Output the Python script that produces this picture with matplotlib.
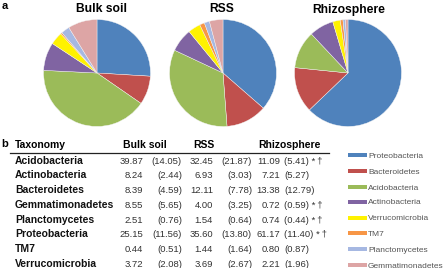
import matplotlib
matplotlib.use("Agg")
import matplotlib.pyplot as plt
from matplotlib.patches import Rectangle
from matplotlib.lines import Line2D

plt.rcParams['font.family'] = ['Liberation Sans', 'DejaVu Sans']

# ---- data ----
taxa = ["Acidobacteria", "Actinobacteria", "Bacteroidetes", "Gemmatimonadetes",
        "Planctomycetes", "Proteobacteria", "TM7", "Verrucomicrobia"]
bulk_mean = [39.87, 8.24, 8.39, 8.55, 2.51, 25.15, 0.44, 3.72]
bulk_sd = [14.05, 2.44, 4.59, 5.65, 0.76, 11.56, 0.51, 2.08]
rss_mean = [32.45, 6.93, 12.11, 4.00, 1.54, 35.60, 1.44, 3.69]
rss_sd = [21.87, 3.03, 7.78, 3.25, 0.64, 13.80, 1.64, 2.67]
rhizo_mean = [11.09, 7.21, 13.38, 0.72, 0.74, 61.17, 0.80, 2.21]
rhizo_sd = [5.41, 5.27, 12.79, 0.59, 0.44, 11.40, 0.87, 1.96]
rhizo_marks = ["*\u2009\u2020", "", "", "*\u2009\u2020", "*\u2009\u2020", "*\u2009\u2020", "", ""]

groups = ["Bulk soil", "RSS", "Rhizosphere"]
pie_order = ["Proteobacteria", "Bacteroidetes", "Acidobacteria", "Actinobacteria",
             "Verrucomicrobia", "TM7", "Planctomycetes", "Gemmatimonadetes"]
pie_colors = ["#4F82BC", "#C0504D", "#9BBB59", "#8064A2",
              "#FFF200", "#F79646", "#A6B8E2", "#DDA5A5"]

W, H = 443, 268
fig = plt.figure(figsize=(W / 100, H / 100), dpi=100)


def fx(x):
    return x / W


def fy(y):
    return 1 - y / H


def txt(x, y, s, **kw):
    fig.text(fx(x), fy(y), s, **kw)


# ---- panel a: pies ----
txt(2, 9, "a", fontsize=8, fontweight='bold', va='baseline')
centers = [97, 223, 348]
title_x = [101, 222, 349]
cy, r = 73, 54
all_means = [bulk_mean, rss_mean, rhizo_mean]
for cx, tx, name, means in zip(centers, title_x, groups, all_means):
    ax = fig.add_axes([fx(cx - r), fy(cy + r), 2 * r / W, 2 * r / H])
    vals = [means[taxa.index(t)] for t in pie_order]
    ax.pie(vals, colors=pie_colors, startangle=90, counterclock=False, radius=1,
           wedgeprops=dict(edgecolor='#f4f4f4', linewidth=0.3))
    ax.set_xlim(-1.01, 1.01)
    ax.set_ylim(-1.01, 1.01)
    ax.axis('off')
    txt(tx, 12.5, name, fontsize=8.7, fontweight='bold', ha='center', va='baseline')

# ---- panel b: table ----
txt(1, 147, "b", fontsize=8, fontweight='bold', va='baseline')
hy = 147.5
fs = 7.5
nfs = 6.8
txt(15, hy, "Taxonomy", fontsize=fs, fontweight='bold', va='baseline')
txt(123, hy, "Bulk soil", fontsize=fs, fontweight='bold', va='baseline')
txt(193, hy, "RSS", fontsize=fs, fontweight='bold', va='baseline')
txt(258, hy, "Rhizosphere", fontsize=fs, fontweight='bold', va='baseline')
fig.add_artist(Line2D([fx(10), fx(329)], [fy(152.5), fy(152.5)],
                      color='#222222', lw=0.9, transform=fig.transFigure))

row_y = [160, 174.5, 189.5, 204, 219, 233.5, 248, 263]
num_c = '#333333'
for i, t in enumerate(taxa):
    yb = row_y[i] + 3.6
    txt(15, yb, t, fontsize=fs, fontweight='bold', va='baseline', color='#111111')
    txt(143, yb, f"{bulk_mean[i]:.2f}", fontsize=nfs, ha='right', va='baseline', color=num_c)
    txt(182, yb, f"({bulk_sd[i]:.2f})", fontsize=nfs, ha='right', va='baseline', color=num_c)
    txt(213, yb, f"{rss_mean[i]:.2f}", fontsize=nfs, ha='right', va='baseline', color=num_c)
    txt(252, yb, f"({rss_sd[i]:.2f})", fontsize=nfs, ha='right', va='baseline', color=num_c)
    txt(280, yb, f"{rhizo_mean[i]:.2f}", fontsize=nfs, ha='right', va='baseline', color=num_c)
    label = f"({rhizo_sd[i]:.2f})"
    if rhizo_marks[i]:
        label += " " + rhizo_marks[i]
    txt(284, yb, label, fontsize=nfs, ha='left', va='baseline', color=num_c,
        family=['Liberation Sans', 'DejaVu Sans'])

# ---- legend ----
leg_y = [155, 171, 187, 202, 218, 233, 249, 265]
for name, col, ly in zip(pie_order, pie_colors, leg_y):
    fig.add_artist(Rectangle((fx(348), fy(ly + 1.6)), 19 / W, 3.2 / H,
                             facecolor=col, edgecolor='none', transform=fig.transFigure))
    txt(368, ly + 2.5, name, fontsize=6, va='baseline', color='#555555')

fig.savefig("out.png", dpi=100)
